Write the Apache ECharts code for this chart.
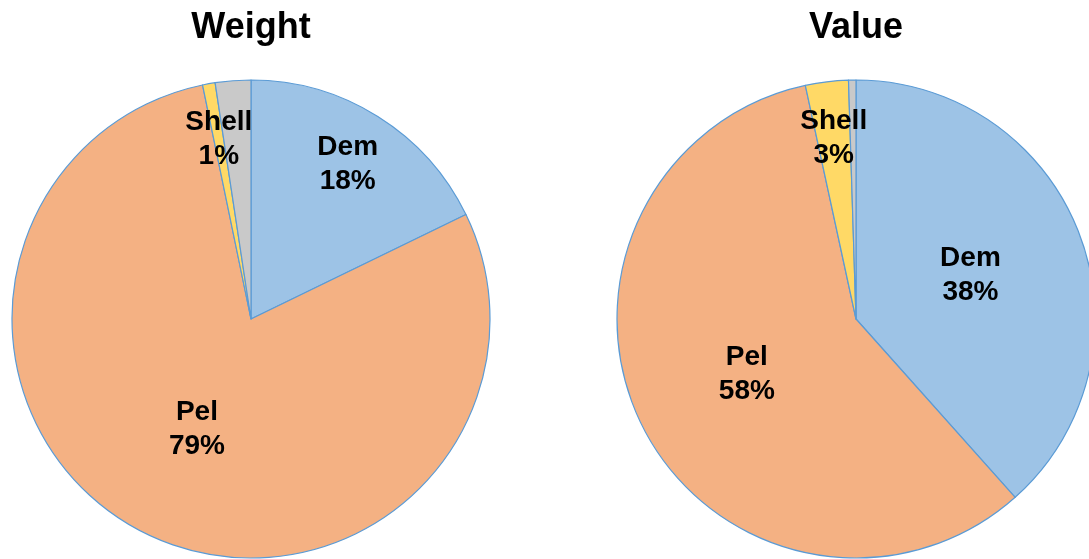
<!DOCTYPE html>
<html>
<head>
<meta charset="utf-8">
<script src="https://cdn.jsdelivr.net/npm/echarts@6/dist/echarts.min.js"></script>
<style>
  html, body { margin: 0; padding: 0; background: #fff; }
  #main { width: 1089px; height: 559px; }
</style>
</head>
<body>
<div id="main"></div>
<script>
var categories = ['Dem', 'Pel', 'Shell', 'Other'];
var weightPct = [17.8, 78.95, 0.85, 2.4];
var valuePct = [38.4, 58.2, 2.9, 0.5];
var colors = ['#9DC3E6', '#F4B183', '#FFD966', '#C9C9C9'];
// which labels sit near the rim instead of mid-radius
var weightRimLabels = ['Dem', 'Shell'];
var weightMidLabels = ['Pel'];
var valueRimLabels = ['Shell'];
var valueMidLabels = ['Dem', 'Pel'];

var chartDom = document.getElementById('main');
var myChart = echarts.init(chartDom);

var font = '"Liberation Sans", Arial, sans-serif';
var R = 239;

function makeData(vals, shown, fill) {
  return categories.map(function (name, i) {
    return {
      name: name,
      value: vals[i],
      itemStyle: fill ? { color: colors[i] } : { color: 'rgba(0,0,0,0)', borderWidth: 0 },
      label: { show: shown.indexOf(name) >= 0 }
    };
  });
}

var labelStyle = {
  position: 'inside',
  formatter: function (p) { return p.name + '\n' + Math.round(p.percent) + '%'; },
  color: '#000',
  fontFamily: font,
  fontWeight: 'bold',
  fontSize: 28,
  lineHeight: 34
};

function pieSeries(center, vals, shown) {
  return {
    type: 'pie',
    center: center,
    radius: [0, R],
    startAngle: 90,
    silent: true,
    avoidLabelOverlap: false,
    itemStyle: { borderColor: '#5B9BD5', borderWidth: 1.2 },
    label: labelStyle,
    labelLine: { show: false },
    emphasis: { disabled: true },
    data: makeData(vals, shown, true)
  };
}

function rimLabels(center, vals, shown) {
  return {
    type: 'pie',
    center: center,
    radius: [R * 0.5, R],
    startAngle: 90,
    silent: true,
    z: 5,
    avoidLabelOverlap: false,
    label: labelStyle,
    labelLine: { show: false },
    emphasis: { disabled: true },
    data: makeData(vals, shown, false)
  };
}

var option = {
  animation: false,
  title: [
    {
      text: 'Weight',
      left: 251,
      top: 10,
      textAlign: 'center',
      padding: 0,
      textStyle: { fontFamily: font, fontWeight: 'bold', fontSize: 36, color: '#000' }
    },
    {
      text: 'Value',
      left: 856,
      top: 10,
      textAlign: 'center',
      padding: 0,
      textStyle: { fontFamily: font, fontWeight: 'bold', fontSize: 36, color: '#000' }
    }
  ],
  series: [
    pieSeries([251, 319], weightPct, weightMidLabels),
    rimLabels([251, 319], weightPct, weightRimLabels),
    pieSeries([856, 319], valuePct, valueMidLabels),
    rimLabels([856, 319], valuePct, valueRimLabels)
  ]
};
myChart.setOption(option);
</script>
</body>
</html>
